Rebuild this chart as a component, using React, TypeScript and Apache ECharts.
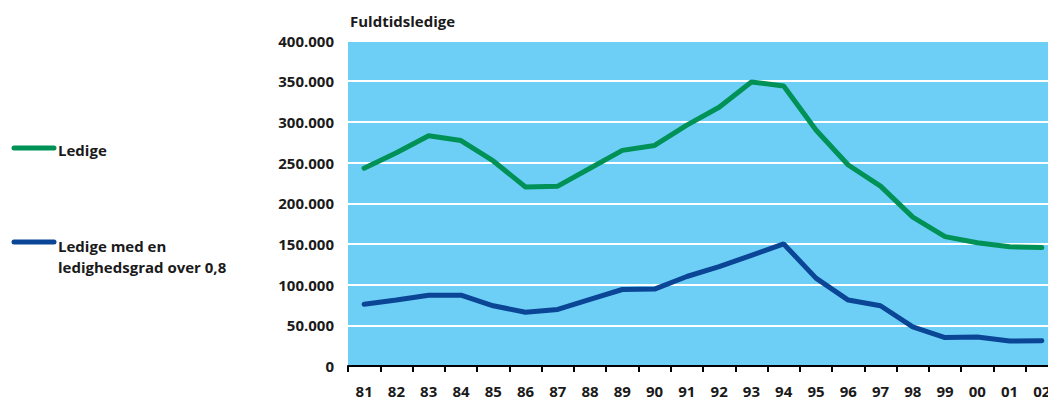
import React, { useEffect, useRef } from "react";
import * as echarts from "echarts";

const years = ["81","82","83","84","85","86","87","88","89","90","91","92","93","94","95","96","97","98","99","00","01","02"];
const ledige = [243000,262000,283000,277000,252000,220000,221000,243000,265000,271000,296000,318000,349000,344000,290000,247000,221000,183000,159000,151500,146500,145500];
const ledigeOver08 = [76000,81000,87000,87000,74000,66000,69500,82000,94000,94500,110000,122000,136000,150000,108000,81000,74000,48000,35000,35600,30700,31000];
const seriesNames = ["Ledige", "Ledige med en\nledighedsgrad over 0,8"];
const yTitle = "Fuldtidsledige";

const GREEN = "#009157";
const BLUE = "#0a4596";
const FONT = "'Open Sans', sans-serif";

export default function App() {
  const ref = useRef<HTMLDivElement>(null);
  useEffect(() => {
    if (!ref.current) return;
    const chart = echarts.init(ref.current, null, { renderer: "svg" });
    chart.setOption({
      animation: false,
      grid: {
        left: 348, top: 40.5, right: 0, bottom: 37,
        show: true, backgroundColor: "#6dcff6", borderWidth: 0,
      },
      xAxis: {
        type: "category",
        data: years,
        boundaryGap: true,
        axisLine: { lineStyle: { color: "#000", width: 2 } },
        axisTick: { show: true, length: 6, lineStyle: { color: "#000", width: 2 } },
        axisLabel: { color: "#1a1a1a", fontWeight: "bold", fontSize: 15, fontFamily: FONT, margin: 17 },
        splitLine: { show: false },
      },
      yAxis: {
        type: "value",
        min: 0, max: 400000, interval: 50000,
        axisLine: { show: false },
        axisTick: { show: false },
        axisLabel: {
          color: "#1a1a1a", fontWeight: "bold", fontSize: 15, fontFamily: FONT, margin: 14,
          formatter: (v: number) => v === 0 ? "0" : (v / 1000).toFixed(0) + ".000",
        },
        splitLine: { show: true, lineStyle: { color: "#ffffff", width: 2 } },
      },
      series: [
        { name: seriesNames[0], type: "line", data: ledige, symbol: "none", lineStyle: { color: GREEN, width: 5, cap: "round" } },
        { name: seriesNames[1], type: "line", data: ledigeOver08, symbol: "none", lineStyle: { color: BLUE, width: 5, cap: "round" } },
      ],
      graphic: [
        { type: "text", left: 350, top: 13, style: { text: yTitle, fill: "#1a1a1a", font: `bold 15px ${FONT}` } },
        { type: "line", shape: { x1: 14, y1: 148, x2: 54, y2: 148 }, style: { stroke: GREEN, lineWidth: 5, lineCap: "round" } },
        { type: "text", left: 58, top: 142, style: { text: seriesNames[0], fill: "#1a1a1a", font: `bold 15px ${FONT}` } },
        { type: "line", shape: { x1: 14, y1: 242, x2: 54, y2: 242 }, style: { stroke: BLUE, lineWidth: 5, lineCap: "round" } },
        { type: "text", left: 58, top: 235, style: { text: seriesNames[1], fill: "#1a1a1a", font: `bold 15px ${FONT}`, lineHeight: 21 } },
      ],
    });
    return () => chart.dispose();
  }, []);
  return <div ref={ref} style={{ position: "fixed", left: 0, top: 0, width: 1058, height: 403, background: "#fff" }} />;
}
